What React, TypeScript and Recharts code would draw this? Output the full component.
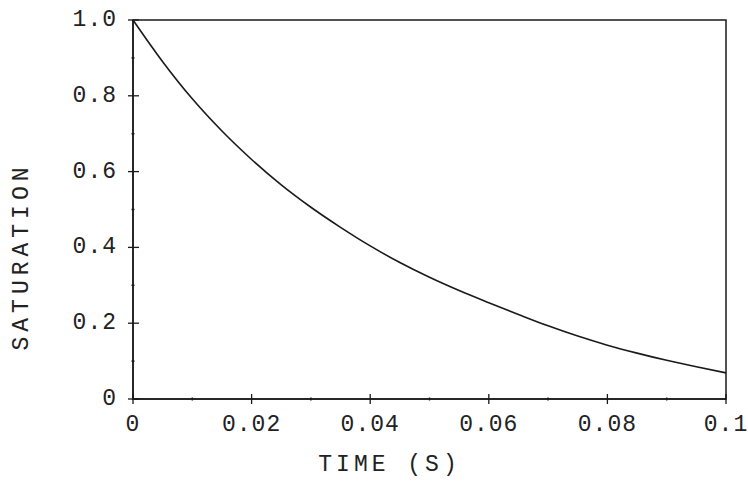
import { LineChart, Line, XAxis, YAxis, ReferenceArea } from 'recharts';

// time (s) and saturation
const times = [0, 0.005, 0.01, 0.015, 0.02, 0.025, 0.03, 0.035, 0.04, 0.045, 0.05, 0.055, 0.06, 0.065, 0.07, 0.075, 0.08, 0.085, 0.09, 0.095, 0.1];
const saturation = [1.0, 0.89, 0.792, 0.707, 0.632, 0.565, 0.506, 0.453, 0.404, 0.36, 0.321, 0.286, 0.254, 0.223, 0.193, 0.166, 0.142, 0.121, 0.102, 0.085, 0.069];

const xTicks = [0, 0.01, 0.02, 0.03, 0.04, 0.05, 0.06, 0.07, 0.08, 0.09, 0.1];
const xMajor = [0, 0.02, 0.04, 0.06, 0.08, 0.1];
const xLabels = ['0', '0.02', '0.04', '0.06', '0.08', '0.1'];

const yTicks = [0, 0.1, 0.2, 0.3, 0.4, 0.5, 0.6, 0.7, 0.8, 0.9, 1.0];
const yMajor = [0, 0.2, 0.4, 0.6, 0.8, 1.0];
const yLabels = ['0', '0.2', '0.4', '0.6', '0.8', '1.0'];

const data = times.map((t, i) => ({ t, s: saturation[i] }));

const INK = '#1a1a1a';
const FONT = '"Liberation Mono", "DejaVu Sans Mono", monospace';
const FS = 23;

function labelFor(v: number, major: number[], labels: string[]) {
  const i = major.findIndex((m) => Math.abs(m - v) < 1e-9);
  return i >= 0 ? labels[i] : null;
}

function XTick(props: any) {
  const { x, y, payload } = props;
  const label = labelFor(payload.value, xMajor, xLabels);
  if (label === null) {
    return <line x1={x} x2={x} y1={y - 1.5} y2={y + 1.5} stroke={INK} strokeWidth={1.5} />;
  }
  return (
    <g>
      <line x1={x} x2={x} y1={y - 5} y2={y + 5} stroke={INK} strokeWidth={1.3} />
      <text x={x} y={y + 26} textAnchor="middle" dominantBaseline="central" fill="#222" fontFamily={FONT} fontSize={FS} letterSpacing={1}>
        {label}
      </text>
    </g>
  );
}

function YTick(props: any) {
  const { x, y, payload } = props;
  const label = labelFor(payload.value, yMajor, yLabels);
  if (label === null) {
    return <line x1={x - 1.5} x2={x + 1.5} y1={y} y2={y} stroke={INK} strokeWidth={1.5} />;
  }
  return (
    <g>
      <line x1={x - 5} x2={x + 6} y1={y} y2={y} stroke={INK} strokeWidth={1.3} />
      <text x={x - 16} y={y} textAnchor="end" dominantBaseline="central" fill="#222" fontFamily={FONT} fontSize={FS} letterSpacing={1}>
        {label}
      </text>
    </g>
  );
}

export default function App() {
  return (
    <div style={{ position: 'absolute', left: 0, top: 0, background: '#fff' }}>
      <LineChart width={748} height={487} data={data} margin={{ top: 20, right: 22, bottom: 0, left: 0 }}>
        <XAxis
          dataKey="t"
          type="number"
          domain={[0, 0.1]}
          ticks={xTicks}
          interval={0}
          height={88}
          tickSize={0}
          tickMargin={0}
          tickLine={false}
          axisLine={{ stroke: INK, strokeWidth: 1.5 }}
          tick={<XTick />}
          label={{
            content: (p: any) => {
              const vb = p.viewBox;
              return (
                <text x={vb.x + vb.width / 2 - 40} y={vb.y + 66} textAnchor="middle" dominantBaseline="central" fill="#222" fontFamily={FONT} fontSize={FS} letterSpacing={4}>
                  TIME (S)
                </text>
              );
            },
          }}
        />
        <YAxis
          type="number"
          domain={[0, 1]}
          ticks={yTicks}
          interval={0}
          width={133}
          tickSize={0}
          tickMargin={0}
          tickLine={false}
          axisLine={{ stroke: INK, strokeWidth: 1.5 }}
          tick={<YTick />}
          label={{
            content: (p: any) => {
              const vb = p.viewBox;
              const cx = vb.x + 22;
              const cy = vb.y + vb.height / 2 + 47;
              return (
                <text x={cx} y={cy} transform={`rotate(-90 ${cx} ${cy})`} textAnchor="middle" dominantBaseline="central" fill="#222" fontFamily={FONT} fontSize={FS} letterSpacing={5}>
                  SATURATION
                </text>
              );
            },
          }}
        />
        <ReferenceArea x1={0} x2={0.1} y1={0} y2={1} fill="none" stroke={INK} strokeWidth={1.5} />
        <Line type="monotone" dataKey="s" stroke={INK} strokeWidth={1.6} dot={false} isAnimationActive={false} />
      </LineChart>
    </div>
  );
}
